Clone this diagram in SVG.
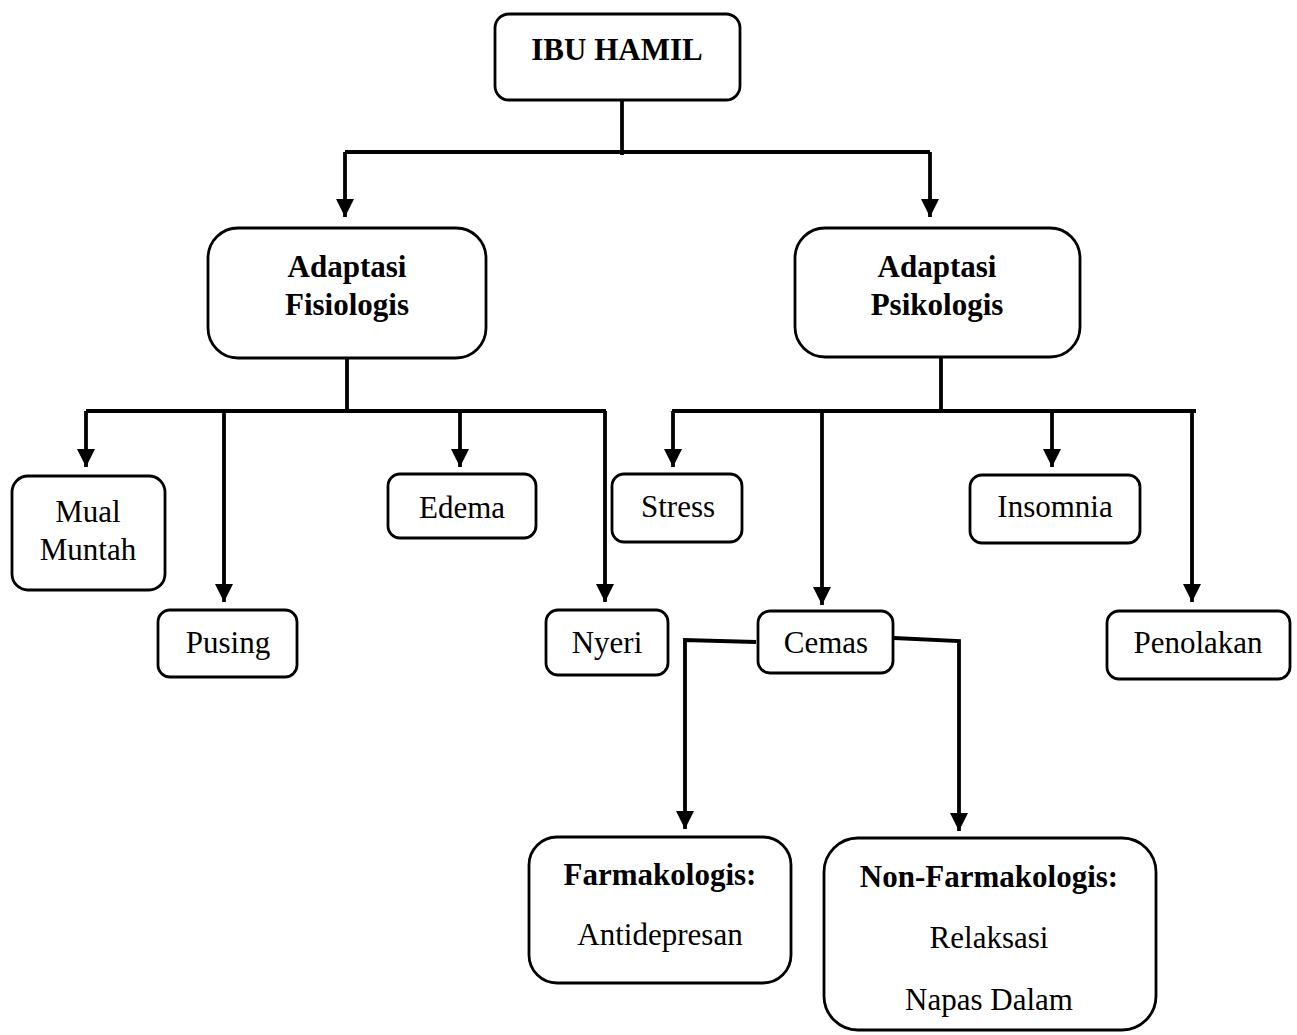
<svg xmlns="http://www.w3.org/2000/svg" width="1297" height="1035" viewBox="0 0 1297 1035">
<style>
.box{fill:#fff;stroke:#000;stroke-width:2.8}
.t{font-family:"Liberation Serif","Times New Roman",serif;font-size:31px;fill:#000;text-anchor:middle}
.b{font-weight:bold}
.c{fill:none;stroke:#000;stroke-width:3.8}
</style>
<defs>
<marker id="ah" viewBox="0 0 18 18" refX="18" refY="9" markerWidth="18" markerHeight="18" markerUnits="userSpaceOnUse" orient="auto">
<path d="M0,0 L18,9 L0,18 Z" fill="#000"/>
</marker>
</defs>
<rect width="1297" height="1035" fill="#fff"/>
<g id="connectors">
<path class="c" d="M622,100 V155"/>
<path class="c" d="M345,152 H930"/>
<path class="c" d="M345,152 V217" marker-end="url(#ah)"/>
<path class="c" d="M930,152 V217" marker-end="url(#ah)"/>
<path class="c" d="M347,358 V411"/>
<path class="c" d="M86,411 H606"/>
<path class="c" d="M86,411 V467" marker-end="url(#ah)"/>
<path class="c" d="M224,411 V602" marker-end="url(#ah)"/>
<path class="c" d="M460,411 V467" marker-end="url(#ah)"/>
<path class="c" d="M605,411 V602" marker-end="url(#ah)"/>
<path class="c" d="M941,358 V411"/>
<path class="c" d="M672,411 H1196"/>
<path class="c" d="M673,411 V467" marker-end="url(#ah)"/>
<path class="c" d="M822,411 V605" marker-end="url(#ah)"/>
<path class="c" d="M1052,411 V467" marker-end="url(#ah)"/>
<path class="c" d="M1192,411 V602" marker-end="url(#ah)"/>
<path class="c" d="M756,642 L685,640 V829" marker-end="url(#ah)"/>
<path class="c" d="M894,638 L959,641 V831" marker-end="url(#ah)"/>
</g>
<g id="ibu-hamil">
<rect class="box" x="495" y="14" width="245" height="86" rx="14"/>
<text class="t b" x="617" y="60">IBU HAMIL</text>
</g>
<g id="adaptasi-fisiologis">
<rect class="box" x="208" y="228" width="278" height="130" rx="30"/>
<text class="t b" x="347" y="277">Adaptasi</text>
<text class="t b" x="347" y="315">Fisiologis</text>
</g>
<g id="adaptasi-psikologis">
<rect class="box" x="795" y="228" width="285" height="129" rx="30"/>
<text class="t b" x="937" y="277">Adaptasi</text>
<text class="t b" x="937" y="315">Psikologis</text>
</g>
<g id="mual-muntah">
<rect class="box" x="12" y="476" width="153" height="114" rx="16"/>
<text class="t" x="88" y="522">Mual</text>
<text class="t" x="88" y="560">Muntah</text>
</g>
<g id="pusing">
<rect class="box" x="158" y="610" width="139" height="67" rx="12"/>
<text class="t" x="228" y="653">Pusing</text>
</g>
<g id="edema">
<rect class="box" x="388" y="474" width="148" height="64" rx="12"/>
<text class="t" x="462" y="518">Edema</text>
</g>
<g id="nyeri">
<rect class="box" x="546" y="610" width="122" height="65" rx="12"/>
<text class="t" x="607" y="653">Nyeri</text>
</g>
<g id="stress">
<rect class="box" x="612" y="474" width="130" height="68" rx="12"/>
<text class="t" x="678" y="517">Stress</text>
</g>
<g id="insomnia">
<rect class="box" x="970" y="475" width="170" height="68" rx="12"/>
<text class="t" x="1055" y="517">Insomnia</text>
</g>
<g id="cemas">
<rect class="box" x="758" y="611" width="135" height="62" rx="12"/>
<text class="t" x="826" y="653">Cemas</text>
</g>
<g id="penolakan">
<rect class="box" x="1107" y="611" width="183" height="68" rx="12"/>
<text class="t" x="1198" y="653">Penolakan</text>
</g>
<g id="farmakologis">
<rect class="box" x="529" y="837" width="262" height="146" rx="28"/>
<text class="t b" x="660" y="885">Farmakologis:</text>
<text class="t" x="660" y="945">Antidepresan</text>
</g>
<g id="non-farmakologis">
<rect class="box" x="824" y="838" width="332" height="192" rx="34"/>
<text class="t b" x="989" y="887">Non-Farmakologis:</text>
<text class="t" x="989" y="948">Relaksasi</text>
<text class="t" x="989" y="1010">Napas Dalam</text>
</g>
</svg>
